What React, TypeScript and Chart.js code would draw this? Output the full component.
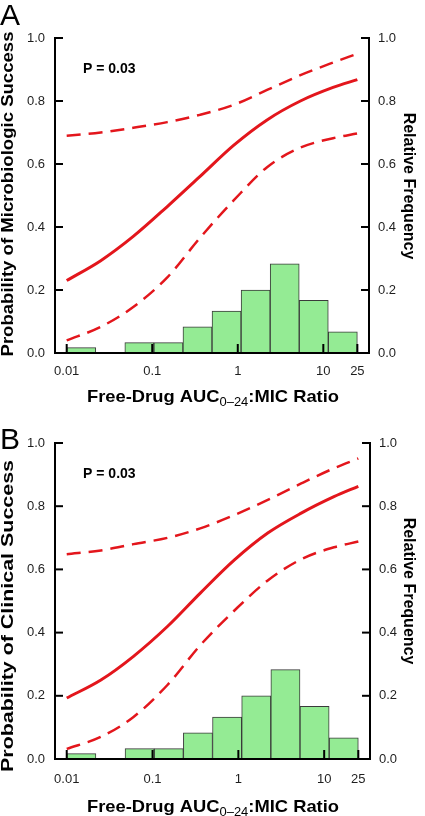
import React, { useEffect, useRef } from 'react';
import { Chart, registerables } from 'chart.js';

Chart.register(...registerables);

// ---------- data ----------
const X_TICKS = [0.01, 0.1, 1, 10, 25];
const Y_TICKS = [0, 0.2, 0.4, 0.6, 0.8, 1.0];
const X_MIN = 0.0073;
const X_MAX = 34.2;

// histogram bins (equal log width, 0.01 .. 25)
const BIN_EDGES = [0.01, 0.0219, 0.0478, 0.1046, 0.2287, 0.5, 1.093, 2.391, 5.229, 11.43, 25];
const FREQ_A = [0.017, 0, 0.033, 0.033, 0.083, 0.133, 0.2, 0.283, 0.167, 0.067];
const FREQ_B = [0.017, 0, 0.033, 0.033, 0.083, 0.133, 0.2, 0.283, 0.167, 0.067];

// fitted probability curves with 95% bands
const CURVE_X = [0.01, 0.025, 0.06, 0.15, 0.36, 0.9, 2.2, 5.4, 13, 25];
const FIT_A = [0.23, 0.293, 0.37, 0.465, 0.56, 0.66, 0.74, 0.8, 0.843, 0.868];
const UPPER_A = [0.69, 0.7, 0.715, 0.733, 0.756, 0.788, 0.835, 0.882, 0.922, 0.95];
const LOWER_A = [0.04, 0.083, 0.146, 0.24, 0.365, 0.485, 0.59, 0.652, 0.682, 0.697];
const FIT_B = [0.193, 0.25, 0.325, 0.42, 0.525, 0.63, 0.715, 0.778, 0.83, 0.863];
const UPPER_B = [0.648, 0.66, 0.68, 0.7, 0.73, 0.772, 0.82, 0.872, 0.92, 0.951];
const LOWER_B = [0.032, 0.07, 0.133, 0.235, 0.36, 0.47, 0.565, 0.632, 0.67, 0.688];

const P_TEXT = 'P = 0.03';
const P_POS = { x: 0.0155, y: 0.9 };
const Y_TITLE_A = 'Probability of Microbiologic Success';
const Y_TITLE_B = 'Probability of Clinical Success';
const Y2_TITLE = 'Relative Frequency';
const X_TITLE_MAIN = 'Free-Drug AUC';
const X_TITLE_SUB = '0\u201324';
const X_TITLE_END = ':MIC Ratio';

// ---------- styles / layout ----------
const W = 425;
const H = 408;
const FF = "'Liberation Sans', Arial, Helvetica, sans-serif";
const RED = '#e3161c';
const GREEN = '#94eb94';
const BAR_EDGE = '#3a3a3a';
const TICK_COLOR = '#1e1e1e';

type Layout = {
  top: number; areaTop: number; areaBottom: number; areaLeft: number; areaRight: number;
  letterBaseline: number; yTitleX: number; yTitleCY: number; yTitleLen: number;
  rTitleX: number; rTitleCY: number; xTitleBaseline: number; xTitleCX: number; xTitleLen: number;
  xLabelPad: number;
};

const LAYOUT_A: Layout = {
  top: 0, areaTop: 38, areaBottom: 353, areaLeft: 55, areaRight: 369,
  letterBaseline: 25, yTitleX: 9, yTitleCY: 194, yTitleLen: 325,
  rTitleX: 408, rTitleCY: 186, xTitleBaseline: 401.5, xTitleCX: 213, xTitleLen: 252, xLabelPad: 11,
};
const LAYOUT_B: Layout = {
  top: 408, areaTop: 35, areaBottom: 351, areaLeft: 55, areaRight: 370,
  letterBaseline: 41, yTitleX: 9, yTitleCY: 208, yTitleLen: 312,
  rTitleX: 408, rTitleCY: 183, xTitleBaseline: 403.5, xTitleCX: 213, xTitleLen: 252, xLabelPad: 13,
};

type PanelCfg = {
  letter: string; yTitle: string; freq: number[]; fit: number[]; upper: number[]; lower: number[];
  layout: Layout;
};

const PANELS: PanelCfg[] = [
  { letter: 'A', yTitle: Y_TITLE_A, freq: FREQ_A, fit: FIT_A, upper: UPPER_A, lower: LOWER_A, layout: LAYOUT_A },
  { letter: 'B', yTitle: Y_TITLE_B, freq: FREQ_B, fit: FIT_B, upper: UPPER_B, lower: LOWER_B, layout: LAYOUT_B },
];

function drawStretched(ctx: CanvasRenderingContext2D, text: string, x: number, y: number,
  rotation: number, font: string, length?: number) {
  ctx.save();
  ctx.translate(x, y);
  ctx.rotate(rotation);
  ctx.font = font;
  const w = ctx.measureText(text).width;
  const sx = length ? length / w : 1;
  ctx.scale(sx, 1);
  ctx.textAlign = 'center';
  ctx.textBaseline = 'middle';
  ctx.fillStyle = '#000';
  ctx.fillText(text, 0, 0);
  ctx.restore();
}

const inwardTicks = {
  id: 'inwardTicks',
  afterDatasetsDraw(chart: any) {
    const { ctx, chartArea: a, scales } = chart;
    ctx.save();
    ctx.strokeStyle = '#000';
    ctx.lineWidth = 2;
    const line = (x1: number, y1: number, x2: number, y2: number) => {
      ctx.beginPath(); ctx.moveTo(x1, y1); ctx.lineTo(x2, y2); ctx.stroke();
    };
    for (const v of Y_TICKS) {
      const y = scales.y.getPixelForValue(v);
      line(a.left, y, a.left + 8, y);
      const y2 = scales.y2.getPixelForValue(v);
      line(a.right - 8, y2, a.right, y2);
    }
    for (const v of X_TICKS) {
      const x = scales.x.getPixelForValue(v);
      line(x, a.bottom, x, a.bottom - 9);
    }
    ctx.restore();
  },
};

function Panel({ cfg }: { cfg: PanelCfg }) {
  const ref = useRef<HTMLCanvasElement>(null);
  useEffect(() => {
    const L = cfg.layout;
    const centers = BIN_EDGES.slice(0, -1).map((e, i) => Math.sqrt(e * BIN_EDGES[i + 1]));
    const bars = centers.map((x, i) => ({ x, y: cfg.freq[i] }));
    const pts = (ys: number[]) => CURVE_X.map((x, i) => ({ x, y: ys[i] }));

    const textPlugin = {
      id: 'panelText',
      afterDraw(chart: any) {
        const { ctx, scales } = chart;
        ctx.save();
        ctx.fillStyle = '#000';
        ctx.font = `30px ${FF}`;
        ctx.textAlign = 'left';
        ctx.textBaseline = 'alphabetic';
        ctx.fillText(cfg.letter, 0, L.letterBaseline);
        ctx.font = `bold 14px ${FF}`;
        ctx.textBaseline = 'middle';
        ctx.fillText(P_TEXT, scales.x.getPixelForValue(P_POS.x), scales.y.getPixelForValue(P_POS.y));
        ctx.restore();
        drawStretched(ctx, cfg.yTitle, L.yTitleX, L.yTitleCY, -Math.PI / 2, `bold 16px ${FF}`, L.yTitleLen);
        drawStretched(ctx, Y2_TITLE, L.rTitleX, L.rTitleCY, Math.PI / 2, `bold 16px ${FF}`);
        ctx.save();
        const fMain = `bold 17px ${FF}`;
        const fSub = `12px ${FF}`;
        ctx.font = fMain;
        const w1 = ctx.measureText(X_TITLE_MAIN).width;
        const w3 = ctx.measureText(X_TITLE_END).width;
        ctx.font = fSub;
        const w2 = ctx.measureText(X_TITLE_SUB).width;
        const total = w1 + w2 + w3;
        const sx = L.xTitleLen / total;
        ctx.translate(L.xTitleCX, L.xTitleBaseline);
        ctx.scale(sx, 1);
        ctx.textAlign = 'left';
        ctx.textBaseline = 'alphabetic';
        ctx.fillStyle = '#000';
        let x = -total / 2;
        ctx.font = fMain; ctx.fillText(X_TITLE_MAIN, x, 0); x += w1;
        ctx.font = fSub; ctx.fillText(X_TITLE_SUB, x, 4); x += w2;
        ctx.font = fMain; ctx.fillText(X_TITLE_END, x, 0);
        ctx.restore();
      },
    };

    const tickFont = { family: FF, size: 13 };
    const chart = new Chart(ref.current as HTMLCanvasElement, {
      type: 'line',
      data: {
        datasets: [
          { type: 'line', data: pts(cfg.fit), borderColor: RED, borderWidth: 3, pointRadius: 0,
            cubicInterpolationMode: 'monotone', yAxisID: 'y', fill: false } as any,
          { type: 'line', data: pts(cfg.upper), borderColor: RED, borderWidth: 2.5, borderDash: [14, 8],
            pointRadius: 0, cubicInterpolationMode: 'monotone', yAxisID: 'y', fill: false } as any,
          { type: 'line', data: pts(cfg.lower), borderColor: RED, borderWidth: 2.5, borderDash: [14, 8],
            pointRadius: 0, cubicInterpolationMode: 'monotone', yAxisID: 'y', fill: false } as any,
          { type: 'bar', data: bars, yAxisID: 'y2', backgroundColor: GREEN, borderColor: BAR_EDGE,
            borderWidth: 1, borderSkipped: false, barPercentage: 1, categoryPercentage: 1 } as any,
        ],
      },
      options: {
        responsive: false,
        animation: false,
        devicePixelRatio: 1,
        events: [],
        layout: { padding: { top: L.areaTop, left: 0, right: 0, bottom: 0 } },
        plugins: { legend: { display: false }, tooltip: { enabled: false } },
        scales: {
          x: {
            type: 'logarithmic', min: X_MIN, max: X_MAX, bounds: 'data', offset: false,
            afterBuildTicks: (s: any) => { s.ticks = X_TICKS.map((v) => ({ value: v })); },
            afterFit: (s: any) => { s.height = H - L.areaBottom; },
            grid: { display: false, drawTicks: false },
            border: { display: true, color: '#000', width: 2, z: 1 },
            ticks: { autoSkip: false, maxRotation: 0, minRotation: 0, padding: L.xLabelPad,
              color: TICK_COLOR, font: tickFont, callback: (v: any) => String(Number(v)) },
          },
          y: {
            type: 'linear', position: 'left', min: 0, max: 1,
            afterBuildTicks: (s: any) => { s.ticks = Y_TICKS.map((v) => ({ value: v })); },
            afterFit: (s: any) => { s.width = L.areaLeft; },
            grid: { display: false, drawTicks: false },
            border: { display: true, color: '#000', width: 2, z: 1 },
            ticks: { padding: 10, color: TICK_COLOR, font: tickFont,
              callback: (v: any) => Number(v).toFixed(1) },
          },
          y2: {
            type: 'linear', position: 'right', min: 0, max: 1,
            afterBuildTicks: (s: any) => { s.ticks = Y_TICKS.map((v) => ({ value: v })); },
            afterFit: (s: any) => { s.width = W - L.areaRight; },
            grid: { display: false, drawTicks: false },
            border: { display: true, color: '#000', width: 2, z: 1 },
            ticks: { padding: 9, color: TICK_COLOR, font: tickFont,
              callback: (v: any) => Number(v).toFixed(1) },
          },
        },
      } as any,
      plugins: [inwardTicks, textPlugin],
    });
    return () => chart.destroy();
  }, [cfg]);
  return (
    <canvas
      ref={ref}
      width={W}
      height={H}
      style={{ position: 'absolute', left: 0, top: cfg.layout.top, width: W, height: H, display: 'block' }}
    />
  );
}

export default function App() {
  return (
    <div style={{ position: 'absolute', left: 0, top: 0, width: W, height: 816, background: '#fff' }}>
      {PANELS.map((p) => (
        <Panel key={p.letter} cfg={p} />
      ))}
    </div>
  );
}
